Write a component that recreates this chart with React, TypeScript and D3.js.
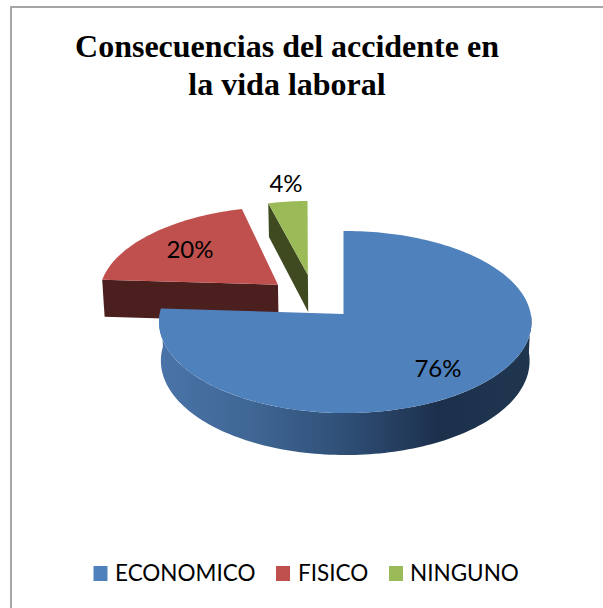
import React from "react";
import * as d3 from "d3";

const W = 603, H = 608;
const categories = ["ECONOMICO", "FISICO", "NINGUNO"];
const values = [76, 20, 4];
const labels = ["76%", "20%", "4%"];
const titleLines = ["Consecuencias del accidente en", "la vida laboral"];
const topColors = ["#4f81bd", "#c0504d", "#9bbb59"];
const wallColors = ["#4a74a8", "#4b1f1e", "#3f4a20"];

// perspective projection of the pie's plane
const cx = 343.5, cy = 314, sx = 185.5, sy = 90.3, k = 0.088, m = 0.0094;
const project = (u: number, v: number): [number, number] => {
  const w = 1 + k * v - m * u;
  return [cx + (u / w) * sx, cy - (v / w) * sy];
};
const depthAt = (u: number, v: number) => 38.5 - 3.5 * v;
const lower = (u: number, v: number): [number, number] => {
  const [x, y] = project(u, v);
  return [cx + (x - cx) * 0.99, y + depthAt(u, v)];
};

const pie = d3.pie<number>().sort(null);
const slices = pie(values);
const offsets: [number, number][] = [[0, 0], [-0.365, 0.335], [-0.2, 0.45]];
const radii = [1, 1, 0.96];
// the far slice leans slightly in the reference's perspective
const skews = [0, 0, 0.035];

const line = d3.line();
const leaned = (i: number, fn: (u: number, v: number) => [number, number]) => (u: number, v: number): [number, number] => {
  const [x, y] = fn(u, v);
  return [x - skews[i] * (v - offsets[i][1]) * sy, y];
};
const arcPts = (a0: number, a1: number, i: number, fn: (u: number, v: number) => [number, number]) => {
  const [ox, oy] = offsets[i];
  const f = leaned(i, fn);
  const n = Math.max(2, Math.ceil(Math.abs(a1 - a0) * 40));
  return d3.range(n + 1).map((j) => {
    const a = a0 + ((a1 - a0) * j) / n;
    return f(ox + radii[i] * Math.sin(a), oy + radii[i] * Math.cos(a));
  });
};
const apex = (i: number, fn: (u: number, v: number) => [number, number]) => fn(offsets[i][0], offsets[i][1]);

const topPath = (i: number) =>
  line([apex(i, project), ...arcPts(slices[i].startAngle, slices[i].endAngle, i, project)]) + "Z";
const radialWall = (i: number, a: number) => {
  const e = arcPts(a, a, i, project)[0];
  const eb = arcPts(a, a, i, lower)[0];
  return line([apex(i, project), e, eb, apex(i, lower)]) + "Z";
};
const deg = (d: number) => (d * Math.PI) / 180;
const blueWall = () => {
  const a0 = deg(90), a1 = slices[0].endAngle;
  return line([...arcPts(a0, a1, 0, project), ...arcPts(a1, a0, 0, lower)]) + "Z";
};

const labelPos = [[438, 377], [190, 258], [286, 192]];
const legendSquareX = [93.5, 276, 389];
const legendTextX = [115, 298, 410];

export default function App() {
  return (
    <svg width={W} height={H} style={{ position: "absolute", left: 0, top: 0 }}>
      <defs>
        <linearGradient id="wall" gradientUnits="userSpaceOnUse" x1={160} x2={531} y1={0} y2={0}>
          <stop offset="0" stopColor="#4a74a8" />
          <stop offset="0.25" stopColor="#3f6694" />
          <stop offset="0.5" stopColor="#2f4f76" />
          <stop offset="0.75" stopColor="#1c304c" />
          <stop offset="1" stopColor="#20364f" />
        </linearGradient>
      </defs>
      <rect x={0} y={0} width={W} height={H} fill="#fff" />
      <path d={`M11,${H}V7H${W}`} fill="none" stroke="#a6a6a6" strokeWidth={2} />
      {titleLines.map((t, i) => (
        <text key={t} x={287} y={57 + i * 38} textAnchor="middle" fontFamily="Liberation Serif" fontWeight="bold" fontSize={32} fill="#000">
          {t}
        </text>
      ))}
      <path d={radialWall(1, slices[1].startAngle)} fill={wallColors[1]} />
      <path d={topPath(1)} fill={topColors[1]} />
      <path d={radialWall(2, slices[2].startAngle)} fill={wallColors[2]} />
      <path d={topPath(2)} fill={topColors[2]} />
      <path d={blueWall()} fill="url(#wall)" />
      <path d={topPath(0)} fill={topColors[0]} />
      {labelPos.map(([x, y], i) => (
        <text key={labels[i]} x={x} y={y} textAnchor="middle" fontFamily="Lato" fontSize={24} fill="#000">
          {labels[i]}
        </text>
      ))}
      {categories.map((c, i) => (
        <g key={c}>
          <rect x={legendSquareX[i]} y={566} width={14} height={15} fill={topColors[i]} />
          <text x={legendTextX[i]} y={581} fontFamily="Lato" fontSize={22.5} fill="#000">
            {c}
          </text>
        </g>
      ))}
    </svg>
  );
}
